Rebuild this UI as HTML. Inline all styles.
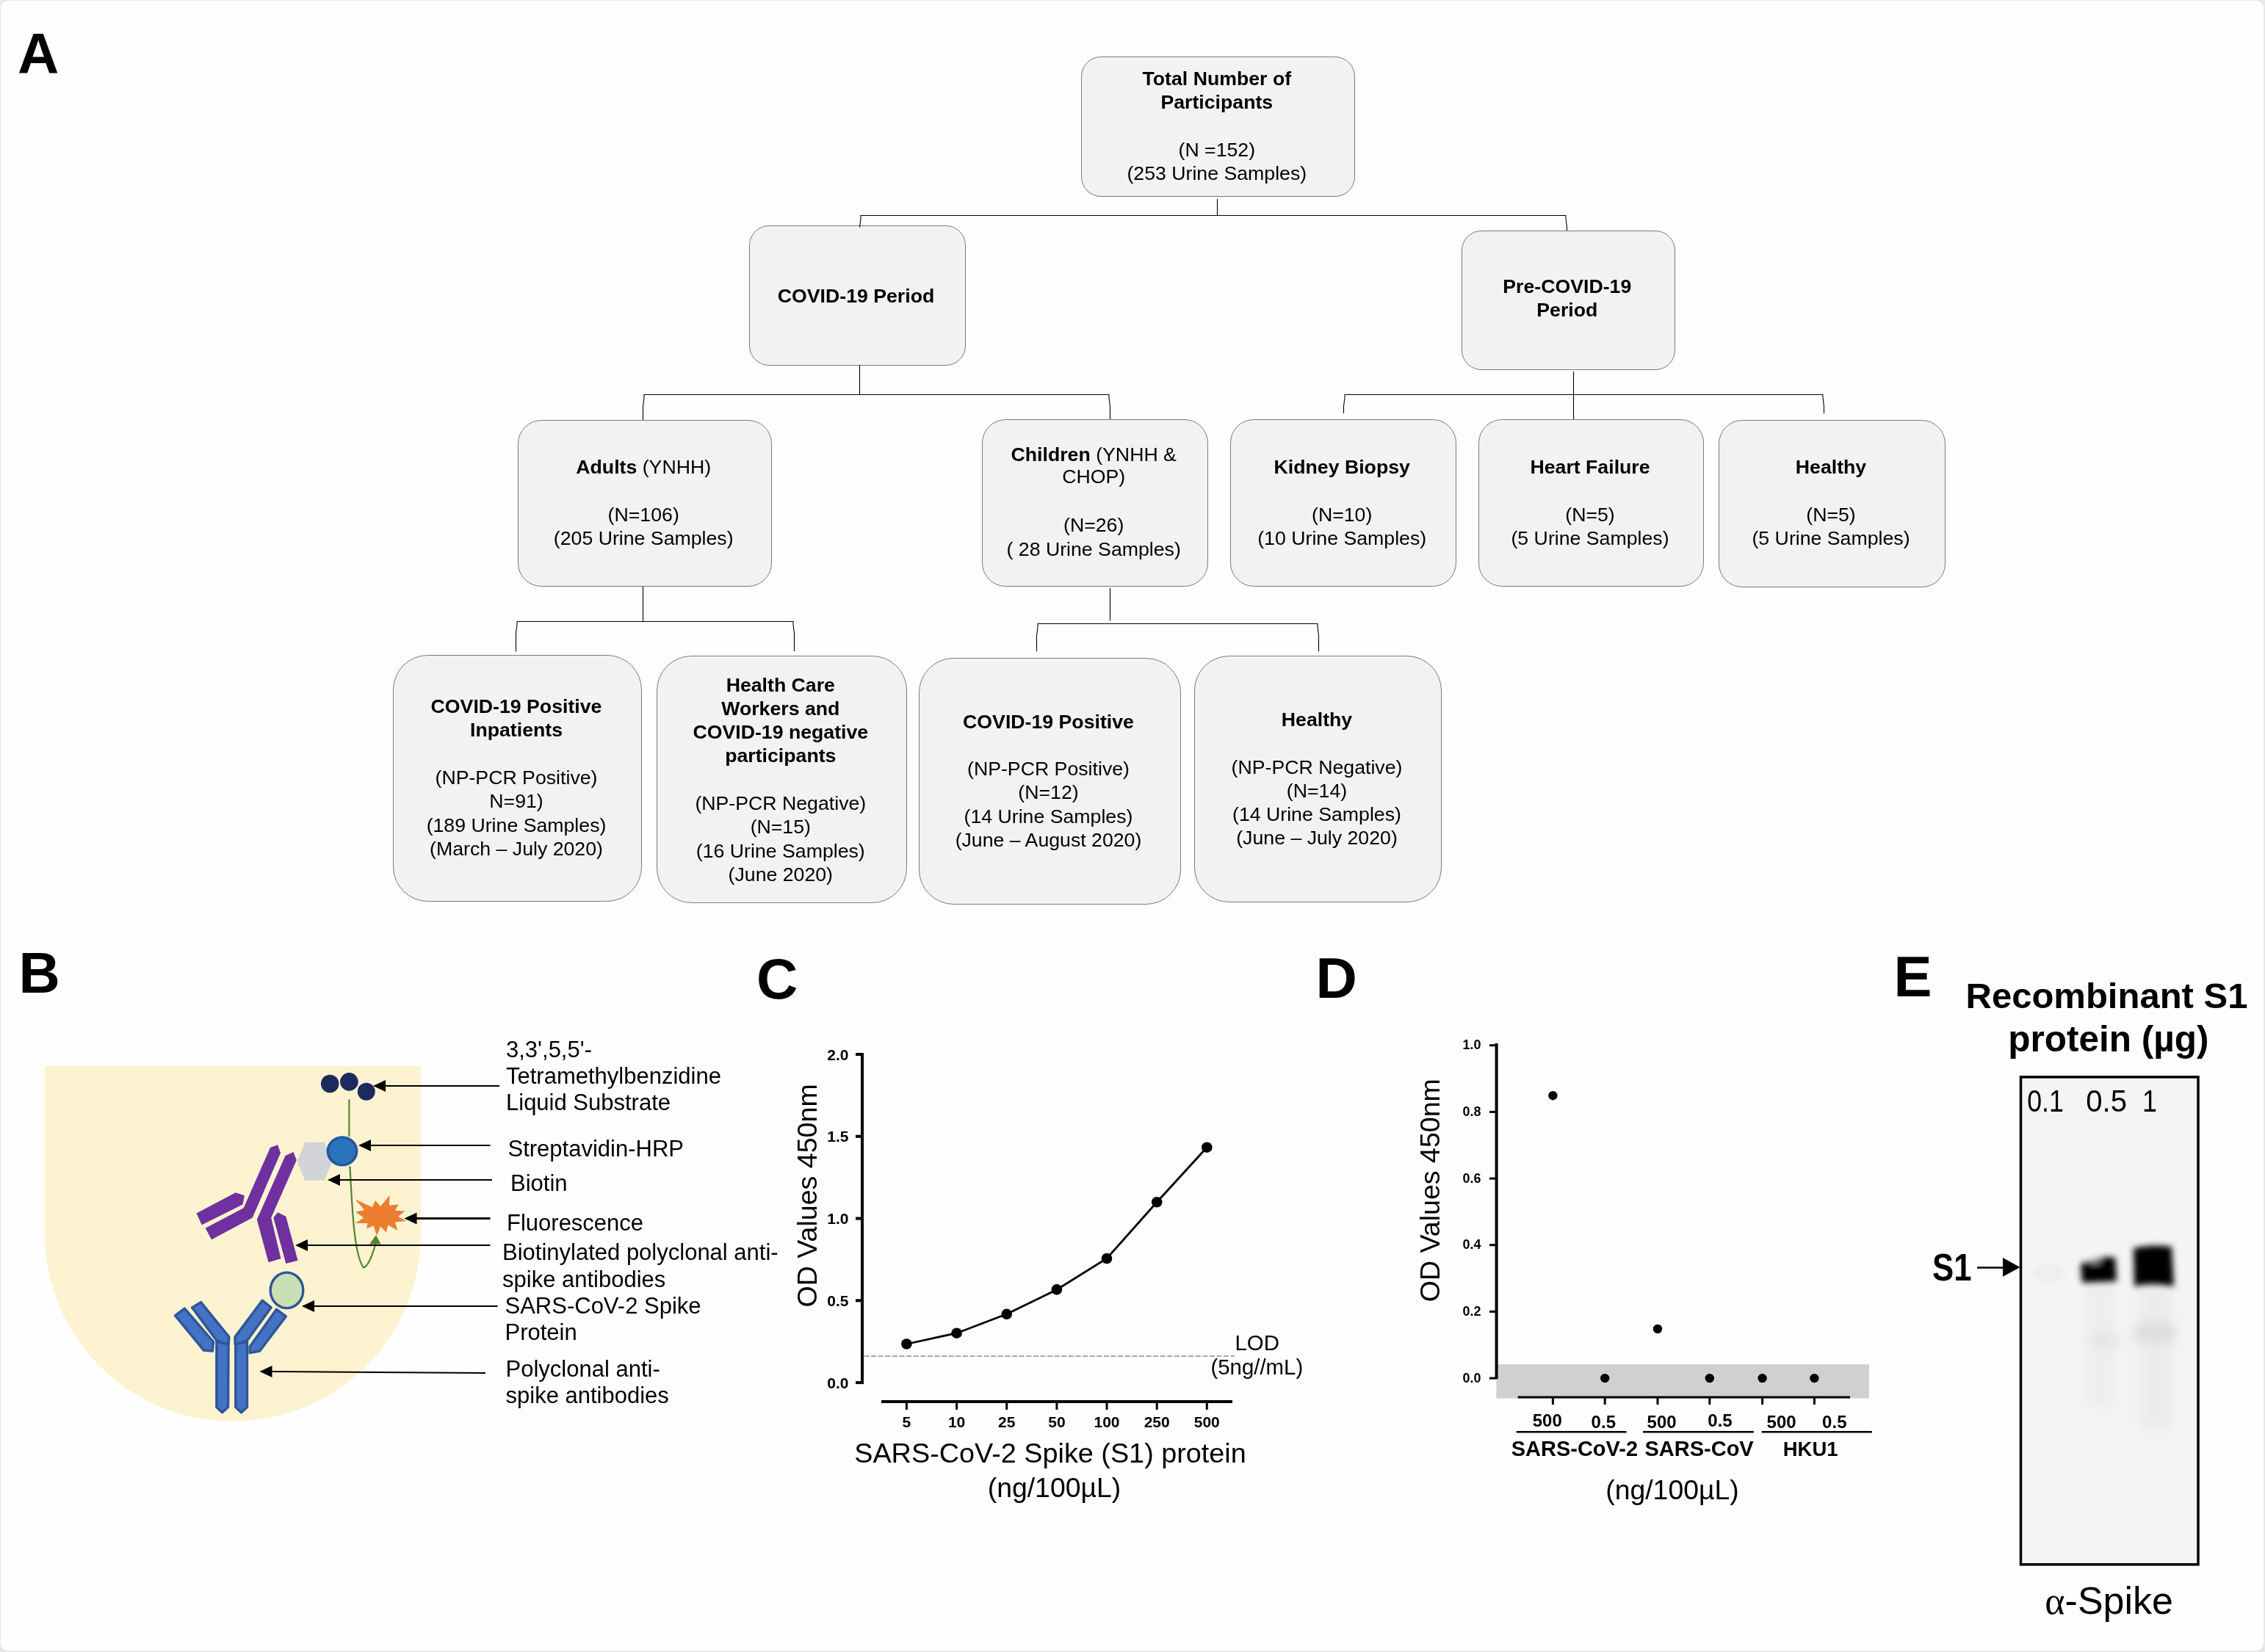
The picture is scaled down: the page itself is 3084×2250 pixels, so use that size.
<!DOCTYPE html><html><head><meta charset="utf-8"><style>html,body{margin:0;padding:0;background:#e8e8e8;width:3084px;height:2250px;overflow:hidden}svg{display:block;font-family:"Liberation Sans",sans-serif;will-change:transform}</style></head><body>
<svg width="3084" height="2250" viewBox="0 0 3084 2250">
<rect x="1" y="1" width="3081" height="2247" rx="10" fill="#fefefe"/>
<rect x="1472.5" y="77.5" width="372.0" height="190.0" rx="26.6" fill="#f2f2f2" stroke="#7a7a7a" stroke-width="1"/>
<text x="1656.8" y="115.7" font-size="26.7" font-weight="normal" text-anchor="middle" fill="#000" ><tspan font-weight="bold">Total Number of</tspan></text>
<text x="1656.8" y="148.0" font-size="26.7" font-weight="normal" text-anchor="middle" fill="#000" ><tspan font-weight="bold">Participants</tspan></text>
<text x="1656.8" y="212.6" font-size="26.7" font-weight="normal" text-anchor="middle" fill="#000" >(N =152)</text>
<text x="1656.8" y="244.9" font-size="26.7" font-weight="normal" text-anchor="middle" fill="#000" >(253 Urine Samples)</text>
<rect x="1020.5" y="307.5" width="294.0" height="190.0" rx="26.6" fill="#f2f2f2" stroke="#7a7a7a" stroke-width="1"/>
<text x="1165.5" y="412.0" font-size="26.7" font-weight="normal" text-anchor="middle" fill="#000" ><tspan font-weight="bold">COVID-19 Period</tspan></text>
<rect x="1990.5" y="314.5" width="290.0" height="189.0" rx="26.5" fill="#f2f2f2" stroke="#7a7a7a" stroke-width="1"/>
<text x="2133.8" y="399.0" font-size="26.7" font-weight="normal" text-anchor="middle" fill="#000" ><tspan font-weight="bold">Pre-COVID-19</tspan></text>
<text x="2133.8" y="430.5" font-size="26.7" font-weight="normal" text-anchor="middle" fill="#000" ><tspan font-weight="bold">Period</tspan></text>
<rect x="705.5" y="572.5" width="345.0" height="226.0" rx="31.6" fill="#f2f2f2" stroke="#7a7a7a" stroke-width="1"/>
<text x="876.2" y="645.0" font-size="26.7" font-weight="normal" text-anchor="middle" fill="#000" ><tspan font-weight="bold">Adults</tspan> (YNHH)</text>
<text x="876.2" y="709.6" font-size="26.7" font-weight="normal" text-anchor="middle" fill="#000" >(N=106)</text>
<text x="876.2" y="741.9" font-size="26.7" font-weight="normal" text-anchor="middle" fill="#000" >(205 Urine Samples)</text>
<rect x="1337.5" y="571.5" width="307.0" height="227.0" rx="31.8" fill="#f2f2f2" stroke="#7a7a7a" stroke-width="1"/>
<text x="1489.2" y="627.8" font-size="26.7" font-weight="normal" text-anchor="middle" fill="#000" ><tspan font-weight="bold">Children</tspan> (YNHH &amp;</text>
<text x="1489.2" y="658.3" font-size="26.7" font-weight="normal" text-anchor="middle" fill="#000" >CHOP)</text>
<text x="1489.2" y="724.1" font-size="26.7" font-weight="normal" text-anchor="middle" fill="#000" >(N=26)</text>
<text x="1489.2" y="756.7" font-size="26.7" font-weight="normal" text-anchor="middle" fill="#000" >( 28 Urine Samples)</text>
<rect x="1675.5" y="571.5" width="307.0" height="227.0" rx="31.8" fill="#f2f2f2" stroke="#7a7a7a" stroke-width="1"/>
<text x="1827.2" y="645.0" font-size="26.7" font-weight="normal" text-anchor="middle" fill="#000" ><tspan font-weight="bold">Kidney Biopsy</tspan></text>
<text x="1827.2" y="709.6" font-size="26.7" font-weight="normal" text-anchor="middle" fill="#000" >(N=10)</text>
<text x="1827.2" y="741.9" font-size="26.7" font-weight="normal" text-anchor="middle" fill="#000" >(10 Urine Samples)</text>
<rect x="2013.5" y="571.5" width="306.0" height="227.0" rx="31.8" fill="#f2f2f2" stroke="#7a7a7a" stroke-width="1"/>
<text x="2165.0" y="645.0" font-size="26.7" font-weight="normal" text-anchor="middle" fill="#000" ><tspan font-weight="bold">Heart Failure</tspan></text>
<text x="2165.0" y="709.6" font-size="26.7" font-weight="normal" text-anchor="middle" fill="#000" >(N=5)</text>
<text x="2165.0" y="741.9" font-size="26.7" font-weight="normal" text-anchor="middle" fill="#000" >(5 Urine Samples)</text>
<rect x="2340.5" y="572.5" width="308.0" height="227.0" rx="31.8" fill="#f2f2f2" stroke="#7a7a7a" stroke-width="1"/>
<text x="2493.0" y="645.0" font-size="26.7" font-weight="normal" text-anchor="middle" fill="#000" ><tspan font-weight="bold">Healthy</tspan></text>
<text x="2493.0" y="709.6" font-size="26.7" font-weight="normal" text-anchor="middle" fill="#000" >(N=5)</text>
<text x="2493.0" y="741.9" font-size="26.7" font-weight="normal" text-anchor="middle" fill="#000" >(5 Urine Samples)</text>
<rect x="535.5" y="892.5" width="338.0" height="335.0" rx="46.9" fill="#f2f2f2" stroke="#7a7a7a" stroke-width="1"/>
<text x="703.0" y="971.0" font-size="26.7" font-weight="normal" text-anchor="middle" fill="#000" ><tspan font-weight="bold">COVID-19 Positive</tspan></text>
<text x="703.0" y="1003.3" font-size="26.7" font-weight="normal" text-anchor="middle" fill="#000" ><tspan font-weight="bold">Inpatients</tspan></text>
<text x="703.0" y="1067.9" font-size="26.7" font-weight="normal" text-anchor="middle" fill="#000" >(NP-PCR Positive)</text>
<text x="703.0" y="1100.2" font-size="26.7" font-weight="normal" text-anchor="middle" fill="#000" >N=91)</text>
<text x="703.0" y="1132.5" font-size="26.7" font-weight="normal" text-anchor="middle" fill="#000" >(189 Urine Samples)</text>
<text x="703.0" y="1164.8" font-size="26.7" font-weight="normal" text-anchor="middle" fill="#000" >(March – July 2020)</text>
<rect x="894.5" y="893.5" width="340.0" height="336.0" rx="47.0" fill="#f2f2f2" stroke="#7a7a7a" stroke-width="1"/>
<text x="1062.8" y="941.5" font-size="26.7" font-weight="normal" text-anchor="middle" fill="#000" ><tspan font-weight="bold">Health Care</tspan></text>
<text x="1062.8" y="973.8" font-size="26.7" font-weight="normal" text-anchor="middle" fill="#000" ><tspan font-weight="bold">Workers and</tspan></text>
<text x="1062.8" y="1006.1" font-size="26.7" font-weight="normal" text-anchor="middle" fill="#000" ><tspan font-weight="bold">COVID-19 negative</tspan></text>
<text x="1062.8" y="1038.4" font-size="26.7" font-weight="normal" text-anchor="middle" fill="#000" ><tspan font-weight="bold">participants</tspan></text>
<text x="1062.8" y="1103.0" font-size="26.7" font-weight="normal" text-anchor="middle" fill="#000" >(NP-PCR Negative)</text>
<text x="1062.8" y="1135.3" font-size="26.7" font-weight="normal" text-anchor="middle" fill="#000" >(N=15)</text>
<text x="1062.8" y="1167.6" font-size="26.7" font-weight="normal" text-anchor="middle" fill="#000" >(16 Urine Samples)</text>
<text x="1062.8" y="1199.9" font-size="26.7" font-weight="normal" text-anchor="middle" fill="#000" >(June 2020)</text>
<rect x="1251.5" y="896.5" width="356.0" height="335.0" rx="46.9" fill="#f2f2f2" stroke="#7a7a7a" stroke-width="1"/>
<text x="1427.5" y="991.5" font-size="26.7" font-weight="normal" text-anchor="middle" fill="#000" ><tspan font-weight="bold">COVID-19 Positive</tspan></text>
<text x="1427.5" y="1056.1" font-size="26.7" font-weight="normal" text-anchor="middle" fill="#000" >(NP-PCR Positive)</text>
<text x="1427.5" y="1088.4" font-size="26.7" font-weight="normal" text-anchor="middle" fill="#000" >(N=12)</text>
<text x="1427.5" y="1120.7" font-size="26.7" font-weight="normal" text-anchor="middle" fill="#000" >(14 Urine Samples)</text>
<text x="1427.5" y="1153.0" font-size="26.7" font-weight="normal" text-anchor="middle" fill="#000" >(June – August 2020)</text>
<rect x="1626.5" y="893.5" width="336.0" height="335.0" rx="46.9" fill="#f2f2f2" stroke="#7a7a7a" stroke-width="1"/>
<text x="1793.0" y="989.4" font-size="26.7" font-weight="normal" text-anchor="middle" fill="#000" ><tspan font-weight="bold">Healthy</tspan></text>
<text x="1793.0" y="1053.8" font-size="26.7" font-weight="normal" text-anchor="middle" fill="#000" >(NP-PCR Negative)</text>
<text x="1793.0" y="1086.0" font-size="26.7" font-weight="normal" text-anchor="middle" fill="#000" >(N=14)</text>
<text x="1793.0" y="1118.2" font-size="26.7" font-weight="normal" text-anchor="middle" fill="#000" >(14 Urine Samples)</text>
<text x="1793.0" y="1150.4" font-size="26.7" font-weight="normal" text-anchor="middle" fill="#000" >(June – July 2020)</text>
<path d="M1657.5 271 V293" fill="none" stroke="#000" stroke-width="1.1"/>
<path d="M1170.5 307.5 V309.5 L1172.0 297.5 L1172.0 293.5 H2132.0 L2132.0 297.5 L2133.5 309.5 V314" fill="none" stroke="#000" stroke-width="1.1"/>
<path d="M1170.5 497 V537" fill="none" stroke="#000" stroke-width="1.1"/>
<path d="M875.5 572 V553.5 L877.0 541.5 L877.0 537.5 H1510.0 L1510.0 541.5 L1511.5 553.5 V571" fill="none" stroke="#000" stroke-width="1.1"/>
<path d="M2142.5 506 V571" fill="none" stroke="#000" stroke-width="1.1"/>
<path d="M1829.5 563 V553.5 L1831.0 541.5 L1831.0 537.5 H2482.0 L2482.0 541.5 L2483.5 553.5 V563" fill="none" stroke="#000" stroke-width="1.1"/>
<path d="M875.5 798.5 V846" fill="none" stroke="#000" stroke-width="1.1"/>
<path d="M702.5 887.5 V862.5 L704.0 850.5 L704.0 846.5 H1080.0 L1080.0 850.5 L1081.5 862.5 V887" fill="none" stroke="#000" stroke-width="1.1"/>
<path d="M1511.5 801 V845.4" fill="none" stroke="#000" stroke-width="1.1"/>
<path d="M1411.5 887.2 V865.5 L1413.0 853.5 L1413.0 849.5 H1794.0 L1794.0 853.5 L1795.5 865.5 V887.2" fill="none" stroke="#000" stroke-width="1.1"/>
<text x="24" y="100" font-size="78" font-weight="bold" text-anchor="start" fill="#000" >A</text>
<text x="25.5" y="1352" font-size="78" font-weight="bold" text-anchor="start" fill="#000" >B</text>
<text x="1030" y="1360" font-size="78" font-weight="bold" text-anchor="start" fill="#000" >C</text>
<text x="1791.5" y="1359" font-size="78" font-weight="bold" text-anchor="start" fill="#000" >D</text>
<text x="2578.5" y="1357" font-size="78" font-weight="bold" text-anchor="start" fill="#000" >E</text>
<path d="M61 1451.5 H573 V1680 A256 256 0 0 1 61 1680 Z" fill="#fdf3d0"/>
<text x="689" y="1440" font-size="31" font-weight="normal" text-anchor="start" fill="#000" >3,3',5,5'-</text>
<text x="689" y="1476" font-size="31" font-weight="normal" text-anchor="start" fill="#000" >Tetramethylbenzidine</text>
<text x="689" y="1511.5" font-size="31" font-weight="normal" text-anchor="start" fill="#000" >Liquid Substrate</text>
<text x="691.5" y="1575" font-size="31" font-weight="normal" text-anchor="start" fill="#000" >Streptavidin-HRP</text>
<text x="695" y="1621.5" font-size="31" font-weight="normal" text-anchor="start" fill="#000" >Biotin</text>
<text x="690" y="1676" font-size="31" font-weight="normal" text-anchor="start" fill="#000" >Fluorescence</text>
<text x="684" y="1716" font-size="31" font-weight="normal" text-anchor="start" fill="#000" >Biotinylated polyclonal anti-</text>
<text x="684" y="1752.5" font-size="31" font-weight="normal" text-anchor="start" fill="#000" >spike antibodies</text>
<text x="687.5" y="1789" font-size="31" font-weight="normal" text-anchor="start" fill="#000" >SARS-CoV-2 Spike</text>
<text x="687.5" y="1825" font-size="31" font-weight="normal" text-anchor="start" fill="#000" >Protein</text>
<text x="688.5" y="1875" font-size="31" font-weight="normal" text-anchor="start" fill="#000" >Polyclonal anti-</text>
<text x="688.5" y="1911" font-size="31" font-weight="normal" text-anchor="start" fill="#000" >spike antibodies</text>
<g transform="translate(230,1540) scale(0.24207)">
<polygon points="155,465 375,348 425,365 415,415 185,530" fill="#7030a0"/>
<polygon points="570,95 612,80 628,125 470,490 240,612 205,548 420,435" fill="#7030a0"/>
<polygon points="655,140 700,120 718,165 575,490 630,720 560,740 495,500" fill="#7030a0"/>
<polygon points="588,490 612,460 658,482 725,730 658,748" fill="#7030a0"/>
<polygon points="268,1185 300,1195 335,1190 333,1555 300,1585 268,1555" fill="#4472c4" stroke="#2f5597" stroke-width="14" stroke-linejoin="round"/>
<polygon points="375,1190 407,1195 440,1185 440,1555 407,1585 375,1555" fill="#4472c4" stroke="#2f5597" stroke-width="14" stroke-linejoin="round"/>
<polygon points="130,995 180,965 338,1160 335,1200 300,1195 268,1180" fill="#4472c4" stroke="#2f5597" stroke-width="14" stroke-linejoin="round"/>
<polygon points="35,1040 88,1000 250,1188 245,1240 195,1235" fill="#4472c4" stroke="#2f5597" stroke-width="14" stroke-linejoin="round"/>
<polygon points="525,955 575,995 440,1180 407,1195 372,1200 372,1160" fill="#4472c4" stroke="#2f5597" stroke-width="14" stroke-linejoin="round"/>
<polygon points="605,1005 658,1045 510,1240 455,1250 455,1215" fill="#4472c4" stroke="#2f5597" stroke-width="14" stroke-linejoin="round"/>
<ellipse cx="663" cy="898" rx="92" ry="100" fill="#c8e0b4" stroke="#2f5597" stroke-width="14"/>
<polygon points="765,65 875,65 918,172 875,280 765,280 722,172" fill="#d2d3d7"/>
<ellipse cx="975" cy="115" rx="81" ry="78" fill="#2a74bb" stroke="#2457a0" stroke-width="15"/>
<path d="M1018 200 C1030 420 1040 700 1095 770 C1130 760 1160 650 1168 610" fill="none" stroke="#548235" stroke-width="9"/>
<polygon points="1128,638 1165,588 1192,638" fill="#548235"/>
</g>
<g transform="translate(470,1615) scale(0.05144)"><polygon points="255,355 720,570 795,390 935,545 1175,255 1165,520 1410,495 1320,655 1585,670 1400,810 1620,935 1320,960 1385,1180 1135,1040 1085,1235 935,1080 840,1320 750,1060 570,1135 590,990 265,990 490,850 275,690 510,640" fill="#ed7d31"/></g>
<path d="M475.4 1497.6 V1548" stroke="#548235" stroke-width="2.2" fill="none"/>
<circle cx="449.2" cy="1476" r="12.3" fill="#1c2a5e"/>
<circle cx="475.4" cy="1473.4" r="12.3" fill="#1c2a5e"/>
<circle cx="498.8" cy="1486.8" r="12" fill="#1c2a5e"/>
<line x1="524" y1="1479" x2="680" y2="1479" stroke="#000" stroke-width="2"/>
<polygon points="508,1479 525,1471 525,1487" fill="#000"/>
<line x1="504" y1="1560" x2="667.5" y2="1560" stroke="#000" stroke-width="2"/>
<polygon points="488,1560 505,1552 505,1568" fill="#000"/>
<line x1="462" y1="1607" x2="670" y2="1607" stroke="#000" stroke-width="2"/>
<polygon points="446,1607 463,1599 463,1615" fill="#000"/>
<line x1="566.5" y1="1659.5" x2="667.5" y2="1659.5" stroke="#000" stroke-width="3"/>
<polygon points="550.5,1659.5 567.5,1651.5 567.5,1667.5" fill="#000"/>
<line x1="418" y1="1696" x2="667.5" y2="1696" stroke="#000" stroke-width="2"/>
<polygon points="402,1696 419,1688 419,1704" fill="#000"/>
<line x1="427" y1="1779" x2="677.5" y2="1779" stroke="#000" stroke-width="2"/>
<polygon points="411,1779 428,1771 428,1787" fill="#000"/>
<line x1="369.5" y1="1868" x2="661" y2="1870" stroke="#000" stroke-width="2"/>
<polygon points="353.5,1868 370.5,1860 370.5,1876" fill="#000"/>
<line x1="1174" y1="1434" x2="1174" y2="1885" stroke="#000" stroke-width="4" />
<line x1="1165" y1="1883.1" x2="1176" y2="1883.1" stroke="#000" stroke-width="4" />
<text x="1155.5" y="1890.6" font-size="21" font-weight="bold" text-anchor="end" fill="#000" >0.0</text>
<line x1="1165" y1="1771.32" x2="1176" y2="1771.32" stroke="#000" stroke-width="4" />
<text x="1155.5" y="1778.8" font-size="21" font-weight="bold" text-anchor="end" fill="#000" >0.5</text>
<line x1="1165" y1="1659.54" x2="1176" y2="1659.54" stroke="#000" stroke-width="4" />
<text x="1155.5" y="1667.0" font-size="21" font-weight="bold" text-anchor="end" fill="#000" >1.0</text>
<line x1="1165" y1="1547.7599999999998" x2="1176" y2="1547.7599999999998" stroke="#000" stroke-width="4" />
<text x="1155.5" y="1555.3" font-size="21" font-weight="bold" text-anchor="end" fill="#000" >1.5</text>
<line x1="1165" y1="1435.98" x2="1176" y2="1435.98" stroke="#000" stroke-width="4" />
<text x="1155.5" y="1443.5" font-size="21" font-weight="bold" text-anchor="end" fill="#000" >2.0</text>
<line x1="1200" y1="1909" x2="1678" y2="1909" stroke="#000" stroke-width="4" />
<line x1="1234.4" y1="1909" x2="1234.4" y2="1920" stroke="#000" stroke-width="3" />
<text x="1234.4" y="1943.8" font-size="21" font-weight="bold" text-anchor="middle" fill="#000" >5</text>
<line x1="1302.6" y1="1909" x2="1302.6" y2="1920" stroke="#000" stroke-width="3" />
<text x="1302.6" y="1943.8" font-size="21" font-weight="bold" text-anchor="middle" fill="#000" >10</text>
<line x1="1370.7" y1="1909" x2="1370.7" y2="1920" stroke="#000" stroke-width="3" />
<text x="1370.7" y="1943.8" font-size="21" font-weight="bold" text-anchor="middle" fill="#000" >25</text>
<line x1="1438.9" y1="1909" x2="1438.9" y2="1920" stroke="#000" stroke-width="3" />
<text x="1438.9" y="1943.8" font-size="21" font-weight="bold" text-anchor="middle" fill="#000" >50</text>
<line x1="1507.0" y1="1909" x2="1507.0" y2="1920" stroke="#000" stroke-width="3" />
<text x="1507.0" y="1943.8" font-size="21" font-weight="bold" text-anchor="middle" fill="#000" >100</text>
<line x1="1575.2" y1="1909" x2="1575.2" y2="1920" stroke="#000" stroke-width="3" />
<text x="1575.2" y="1943.8" font-size="21" font-weight="bold" text-anchor="middle" fill="#000" >250</text>
<line x1="1643.3" y1="1909" x2="1643.3" y2="1920" stroke="#000" stroke-width="3" />
<text x="1643.3" y="1943.8" font-size="21" font-weight="bold" text-anchor="middle" fill="#000" >500</text>
<polyline points="1234.4,1830.5 1302.6,1815.7 1370.7,1789.8 1438.9,1756.4 1507.0,1714 1575.2,1637.3 1643.3,1562.7" fill="none" stroke="#000" stroke-width="2.8"/>
<circle cx="1234.4" cy="1830.5" r="7.3" fill="#000"/>
<circle cx="1302.6" cy="1815.7" r="7.3" fill="#000"/>
<circle cx="1370.7" cy="1789.8" r="7.3" fill="#000"/>
<circle cx="1438.9" cy="1756.4" r="7.3" fill="#000"/>
<circle cx="1507.0" cy="1714" r="7.3" fill="#000"/>
<circle cx="1575.2" cy="1637.3" r="7.3" fill="#000"/>
<circle cx="1643.3" cy="1562.7" r="7.3" fill="#000"/>
<line x1="1176.5" y1="1847" x2="1681" y2="1847" stroke="#a9a9a9" stroke-width="1.8" stroke-dasharray="7 2.6"/>
<text x="1681.5" y="1839" font-size="29.4" font-weight="normal" text-anchor="start" fill="#000" >LOD</text>
<text x="1711.3" y="1872" font-size="29.4" font-weight="normal" text-anchor="middle" fill="#000" >(5ng//mL)</text>
<text x="1112.5" y="1628.4" font-size="37.6" font-weight="normal" text-anchor="middle" fill="#000" transform="rotate(-90 1112.5 1628.4)">OD Values 450nm</text>
<text x="1430" y="1992" font-size="37.8" font-weight="normal" text-anchor="middle" fill="#000" >SARS-CoV-2 Spike (S1) protein</text>
<text x="1435.5" y="2039" font-size="37.4" font-weight="normal" text-anchor="middle" fill="#000" >(ng/100µL)</text>
<rect x="2037.4" y="1858.2" width="507.6" height="46.3" fill="#d0d0d0"/>
<line x1="2037.6" y1="1421" x2="2037.6" y2="1878" stroke="#000" stroke-width="4" />
<line x1="2028" y1="1877.1" x2="2038" y2="1877.1" stroke="#000" stroke-width="3" />
<text x="2016.5" y="1882.6" font-size="18" font-weight="bold" text-anchor="end" fill="#000" >0.0</text>
<line x1="2028" y1="1786.4" x2="2038" y2="1786.4" stroke="#000" stroke-width="3" />
<text x="2016.5" y="1791.9" font-size="18" font-weight="bold" text-anchor="end" fill="#000" >0.2</text>
<line x1="2028" y1="1695.7" x2="2038" y2="1695.7" stroke="#000" stroke-width="3" />
<text x="2016.5" y="1701.2" font-size="18" font-weight="bold" text-anchor="end" fill="#000" >0.4</text>
<line x1="2028" y1="1605.1" x2="2038" y2="1605.1" stroke="#000" stroke-width="3" />
<text x="2016.5" y="1610.6" font-size="18" font-weight="bold" text-anchor="end" fill="#000" >0.6</text>
<line x1="2028" y1="1514.4" x2="2038" y2="1514.4" stroke="#000" stroke-width="3" />
<text x="2016.5" y="1519.9" font-size="18" font-weight="bold" text-anchor="end" fill="#000" >0.8</text>
<line x1="2028" y1="1423.7" x2="2038" y2="1423.7" stroke="#000" stroke-width="3" />
<text x="2016.5" y="1429.2" font-size="18" font-weight="bold" text-anchor="end" fill="#000" >1.0</text>
<line x1="2066.6" y1="1903" x2="2519" y2="1903" stroke="#000" stroke-width="3" />
<line x1="2114.4" y1="1903" x2="2114.4" y2="1913" stroke="#000" stroke-width="3" />
<line x1="2185.2" y1="1903" x2="2185.2" y2="1913" stroke="#000" stroke-width="3" />
<line x1="2257" y1="1903" x2="2257" y2="1913" stroke="#000" stroke-width="3" />
<line x1="2327.8" y1="1903" x2="2327.8" y2="1913" stroke="#000" stroke-width="3" />
<line x1="2399.6" y1="1903" x2="2399.6" y2="1913" stroke="#000" stroke-width="3" />
<line x1="2470.4" y1="1903" x2="2470.4" y2="1913" stroke="#000" stroke-width="3" />
<circle cx="2114.4" cy="1492.2" r="6.2" fill="#000"/>
<circle cx="2185.2" cy="1877.1" r="6.2" fill="#000"/>
<circle cx="2257" cy="1810" r="6.2" fill="#000"/>
<circle cx="2327.8" cy="1877.1" r="6.2" fill="#000"/>
<circle cx="2399.6" cy="1877.1" r="6.2" fill="#000"/>
<circle cx="2470.4" cy="1877.1" r="6.2" fill="#000"/>
<text x="2106.8" y="1943" font-size="24" font-weight="bold" text-anchor="middle" fill="#000" >500</text>
<text x="2183.3" y="1944.5" font-size="24" font-weight="bold" text-anchor="middle" fill="#000" >0.5</text>
<text x="2262.6" y="1944.5" font-size="24" font-weight="bold" text-anchor="middle" fill="#000" >500</text>
<text x="2342" y="1943" font-size="24" font-weight="bold" text-anchor="middle" fill="#000" >0.5</text>
<text x="2425.6" y="1944.5" font-size="24" font-weight="bold" text-anchor="middle" fill="#000" >500</text>
<text x="2497.8" y="1944.5" font-size="24" font-weight="bold" text-anchor="middle" fill="#000" >0.5</text>
<line x1="2064.8" y1="1950.3" x2="2214.5" y2="1950.3" stroke="#000" stroke-width="2.5" />
<line x1="2237.1" y1="1950.3" x2="2387.8" y2="1950.3" stroke="#000" stroke-width="2.5" />
<line x1="2398.7" y1="1950.3" x2="2548.8" y2="1950.3" stroke="#000" stroke-width="2.5" />
<text x="2143.9" y="1983" font-size="29" font-weight="bold" text-anchor="middle" fill="#000" >SARS-CoV-2</text>
<text x="2313.6" y="1983" font-size="29" font-weight="bold" text-anchor="middle" fill="#000" >SARS-CoV</text>
<text x="2465.2" y="1983" font-size="27.5" font-weight="bold" text-anchor="middle" fill="#000" >HKU1</text>
<text x="1960" y="1621.2" font-size="37.6" font-weight="normal" text-anchor="middle" fill="#000" transform="rotate(-90 1960 1621.2)">OD Values 450nm</text>
<text x="2277" y="2042" font-size="37.4" font-weight="normal" text-anchor="middle" fill="#000" >(ng/100µL)</text>
<text x="2868.5" y="1373.2" font-size="49" font-weight="bold" text-anchor="middle" fill="#000" >Recombinant S1</text>
<text x="2870.8" y="1432" font-size="49.5" font-weight="bold" text-anchor="middle" fill="#000" >protein (µg)</text>
<rect x="2751.5" y="1466.9" width="241.5" height="663.9" fill="#f4f4f4" stroke="#000" stroke-width="3.5"/>
<text x="2760.2" y="1513.8" font-size="42" font-weight="normal" text-anchor="start" fill="#000" textLength="49.6" lengthAdjust="spacingAndGlyphs">0.1</text>
<text x="2840.2" y="1513.8" font-size="42" font-weight="normal" text-anchor="start" fill="#000" textLength="55.8" lengthAdjust="spacingAndGlyphs">0.5</text>
<text x="2917" y="1513.8" font-size="42" font-weight="normal" text-anchor="start" fill="#000" textLength="20" lengthAdjust="spacingAndGlyphs">1</text>
<text x="2631" y="1744" font-size="51" font-weight="bold" text-anchor="start" fill="#000" textLength="53.5" lengthAdjust="spacingAndGlyphs">S1</text>
<line x1="2692" y1="1726.5" x2="2730" y2="1726.5" stroke="#000" stroke-width="2.5" />
<polygon points="2750.5,1726 2727,1713 2727,1738.7" fill="#000"/>
<defs><filter id="blur" x="-50%" y="-50%" width="200%" height="200%"><feGaussianBlur stdDeviation="4"/></filter><filter id="blur2" x="-50%" y="-50%" width="200%" height="200%"><feGaussianBlur stdDeviation="8"/></filter></defs>
<g filter="url(#blur2)"><rect x="2840" y="1745" width="40" height="170" fill="#ededed"/><rect x="2912" y="1748" width="44" height="200" fill="#ebebeb"/><rect x="2906" y="1804" width="56" height="22" fill="#dadada"/><rect x="2846" y="1818" width="40" height="16" fill="#e4e4e4"/></g>
<g filter="url(#blur)"><path d="M2833 1722 Q2850 1712 2880 1712 L2882 1745 L2835 1747 Z" fill="#050505"/><path d="M2905 1700 Q2930 1694 2957 1698 L2960 1752 Q2930 1746 2906 1752 Z" fill="#000"/><ellipse cx="2789" cy="1734" rx="17" ry="8" fill="none" stroke="#e4e4e4" stroke-width="4"/><ellipse cx="2852" cy="1718" rx="9" ry="3" fill="#999"/></g>
<text x="2871.7" y="2198.3" font-size="52" font-weight="normal" text-anchor="middle" fill="#000" ><tspan font-family="Liberation Serif">α</tspan>-Spike</text>
</svg></body></html>
